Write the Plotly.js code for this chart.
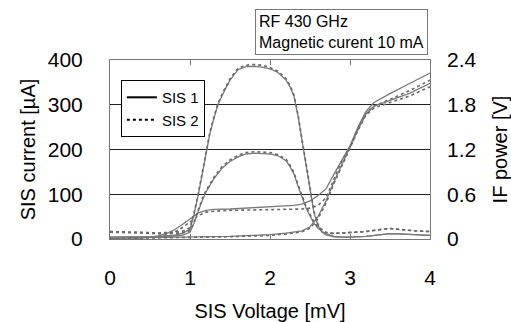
<!DOCTYPE html>
<html><head><meta charset="utf-8">
<script src="https://cdn.plot.ly/plotly-3.0.1.min.js"></script>
<style>html,body{margin:0;padding:0;background:#fff}#c{width:511px;height:322px}</style>
</head><body><div id="c"></div>
<script>
// SIS voltage [mV] grids
const vIV = [0,0.3,0.5,0.6,0.7,0.8,0.9,1.0,1.1,1.2,1.3,1.5,2.0,2.3,2.4,2.5,2.6,2.7,2.8,2.9,3.0,3.1,3.2,3.3,3.5,3.75,4.0];
// Pumped IV [uA]
const ivPumped1 = [0,1,4,7,12,20,32,45,58,64,66,67,71,75,78,85,97,112,145,178,208,250,285,305,325,348,371];
const ivPumped2 = [0,1,3,5,9,15,25,38,52,60,62,64,65,66,67,69,75,92,135,176,205,247,280,297,312,332,355];
const vIV0 = [0,0.5,1.0,1.5,2.0,2.2,2.4,2.5,2.6,2.7,2.8,2.9,3.0,3.1,3.2,3.3,3.5,3.75,4.0];
// Unpumped IV [uA]
const ivUnpumped1 = [2,3,4,6,10,13,18,27,50,85,128,168,206,245,280,297,310,326,348];
const ivUnpumped2 = [1,2,3,5,8,11,16,24,45,80,124,165,204,243,277,293,305,320,340];
// IF power grid [mV]
const vIF = [0,0.2,0.4,0.6,0.8,0.9,1.0,1.05,1.1,1.15,1.2,1.25,1.3,1.35,1.4,1.5,1.6,1.7,1.8,1.9,2.0,2.1,2.2,2.25,2.3,2.35,2.4,2.45,2.5,2.55,2.6,2.65,2.7,2.8,2.9,3.0,3.2,3.4,3.5,3.6,3.8,4.0];
// IF power [V], hot load (large) and cold load (small)
const ifHot1  = [0.024,0.024,0.026,0.03,0.05,0.075,0.13,0.33,0.57,0.84,1.14,1.42,1.62,1.80,1.92,2.13,2.27,2.31,2.316,2.304,2.28,2.232,2.13,2.04,1.91,1.65,1.32,0.99,0.66,0.35,0.18,0.09,0.054,0.03,0.024,0.024,0.036,0.066,0.072,0.07,0.06,0.048];
const ifHot2  = [0.10,0.10,0.09,0.08,0.09,0.10,0.15,0.35,0.59,0.86,1.16,1.44,1.64,1.82,1.94,2.15,2.29,2.33,2.34,2.33,2.30,2.25,2.15,2.06,1.93,1.67,1.34,1.01,0.68,0.37,0.20,0.11,0.08,0.075,0.08,0.085,0.10,0.13,0.14,0.13,0.11,0.10];
const ifCold1 = [0.024,0.024,0.024,0.03,0.04,0.05,0.09,0.21,0.36,0.51,0.63,0.72,0.81,0.88,0.95,1.04,1.10,1.14,1.152,1.146,1.14,1.116,1.05,0.97,0.87,0.71,0.55,0.42,0.31,0.21,0.144,0.1,0.072,0.036,0.024,0.024,0.036,0.066,0.072,0.07,0.06,0.048];
const ifCold2 = [0.09,0.09,0.08,0.07,0.07,0.08,0.11,0.23,0.38,0.53,0.65,0.74,0.83,0.90,0.97,1.06,1.12,1.16,1.17,1.165,1.16,1.13,1.07,0.99,0.89,0.73,0.57,0.44,0.33,0.23,0.16,0.12,0.09,0.075,0.08,0.085,0.10,0.13,0.14,0.13,0.11,0.10];
const legendNames = ["SIS 1","SIS 2"];

const gray = "#7a7a7a";
const solid = {color: gray, width: 1.3};
const dotted = {color: "#6a6a6a", width: 1.6, dash: "dot"};
function tr(x, y, line, axis) {
  return {x: x, y: y, type: "scatter", mode: "lines", line: line, yaxis: axis, showlegend: false, hoverinfo: "skip"};
}
const data = [
  tr(vIV, ivPumped1, solid, "y"),
  tr(vIV, ivPumped2, dotted, "y"),
  tr(vIV0, ivUnpumped1, solid, "y"),
  tr(vIV0, ivUnpumped2, dotted, "y"),
  tr(vIF, ifHot1, solid, "y2"),
  tr(vIF, ifHot2, dotted, "y2"),
  tr(vIF, ifCold1, solid, "y2"),
  tr(vIF, ifCold2, dotted, "y2"),
  {x: [null], y: [null], type: "scatter", mode: "lines", name: legendNames[0], line: {color: "#000", width: 2}},
  {x: [null], y: [null], type: "scatter", mode: "lines", name: legendNames[1], line: {color: "#000", width: 2, dash: "dot"}}
];
const fam = "Liberation Sans, Arial, sans-serif";
const layout = {
  width: 511, height: 322,
  margin: {l: 110, r: 81, t: 60, b: 83},
  paper_bgcolor: "#fff", plot_bgcolor: "#fff",
  font: {family: fam, size: 21, color: "#000"},
  xaxis: {
    range: [0, 4], dtick: 1, tick0: 0, showgrid: false, zeroline: false,
    ticks: "inside", ticklen: 5, tickcolor: "#777", mirror: "ticks",
    showline: true, linecolor: "#777", linewidth: 1,
    ticklabelstandoff: 20,
    title: {text: "SIS Voltage [mV]", font: {size: 20}, standoff: 18}
  },
  yaxis: {
    range: [0, 400], dtick: 100, tick0: 0, showgrid: true, gridcolor: "#222", gridwidth: 1,
    zeroline: false, ticks: "", showline: true, linecolor: "#777", mirror: true,
    ticklabelstandoff: 22,
    title: {text: "SIS current [µA]", font: {size: 20}, standoff: 6}
  },
  yaxis2: {
    range: [0, 2.4], dtick: 0.6, tick0: 0, overlaying: "y", side: "right",
    showgrid: false, zeroline: false, ticks: "", showline: false,
    ticklabelstandoff: 16,
    title: {text: "IF power [V]", font: {size: 20}, standoff: 18}
  },
  showlegend: true,
  legend: {
    x: 0.034, y: 0.888, xanchor: "left", yanchor: "top",
    bgcolor: "#fff", bordercolor: "#000", borderwidth: 1,
    font: {size: 15}, itemwidth: 30, tracegroupgap: 0
  },
  annotations: [{
    xref: "paper", yref: "paper", x: 0.994, y: 1.285, xanchor: "right", yanchor: "top",
    text: "RF 430 GHz<br>Magnetic curent 10 mA", align: "left", showarrow: false,
    font: {size: 16}, bordercolor: "#777", borderwidth: 1, borderpad: 3, bgcolor: "#fff"
  }]
};
Plotly.newPlot("c", data, layout, {staticPlot: true, displayModeBar: false});
</script></body></html>
